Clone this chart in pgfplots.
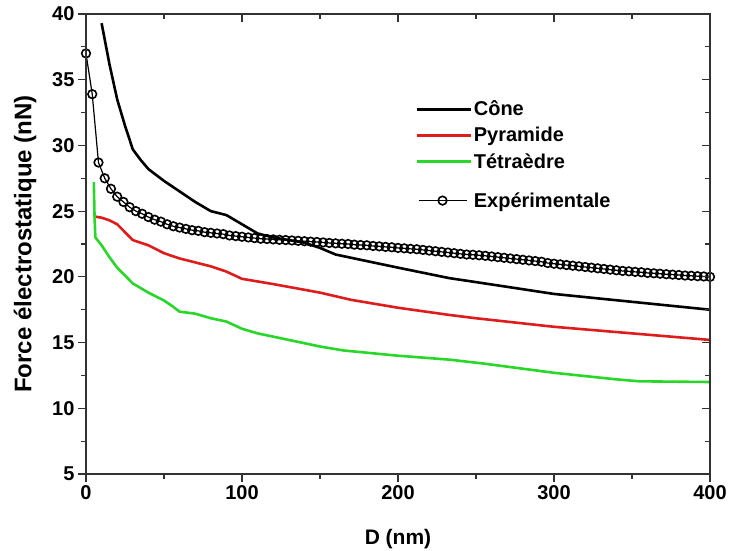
\documentclass[border=0pt]{standalone}
\usepackage{fontspec}
\setmainfont{Liberation Sans}
\usepackage{pgfplots}
\pgfplotsset{compat=1.18}
\definecolor{cred}{RGB}{222,28,28}
\definecolor{cgreen}{RGB}{40,215,40}
\definecolor{axgray}{RGB}{50,50,50}
\pgfplotsset{explegend/.style={legend image code/.code={\draw[mark repeat=2, mark phase=2, ##1] plot coordinates {(2pt,-6.5pt) (26pt,-6.5pt) (50pt,-6.5pt)};}}}
\begin{document}
\begin{tikzpicture}
\useasboundingbox (-86pt,-77pt) rectangle (643pt,474pt);
\pgfplotsset{
  common/.style={
    width=624pt, height=460pt, scale only axis,
    xmin=0, xmax=400, ymin=5, ymax=40,
    xtick={0,100,200,300,400}, minor xtick={50,150,250,350},
    ytick={5,10,15,20,25,30,35,40}, minor ytick={7.5,12.5,17.5,22.5,27.5,32.5,37.5},
    axis line style={draw=axgray, line width=1.3pt},
    major tick length=8pt, minor tick length=5pt,
    every tick/.style={axgray, line width=1.2pt},
  }
}
\begin{axis}[common,
  xtick pos=lower, ytick pos=left, tick align=outside,
  /pgf/number format/assume math mode=true,
  tick label style={font=\fontsize{20}{23}\selectfont\bfseries},
  xlabel={D (nm)}, ylabel={Force électrostatique (nN)},
  every axis y label/.style={at={(rel axis cs:0,0.5)}, xshift=-61pt, rotate=90, anchor=center,
    font=\fontsize{24}{27}\selectfont\bfseries},
  every axis x label/.style={at={(rel axis cs:0.5,0)}, anchor=center, yshift=-65pt,
    font=\fontsize{21}{24}\selectfont\bfseries},
  legend style={at={(axis cs:209,33.7)}, anchor=north west, draw=none, fill=none,
    font=\fontsize{20}{23}\selectfont\bfseries, row sep=6pt,
    nodes={inner sep=2pt}},
  legend cell align=left,
  legend image code/.code={\draw[mark repeat=2, mark phase=2, #1] plot coordinates {(0pt,0pt) (27pt,0pt) (54pt,0pt)};},
]
\addplot[black, line width=2.6pt, mark=none] coordinates {
(10,39.3) (15,36.2) (20,33.5) (25,31.5) (30,29.7) (35,28.9) (40,28.2) (50,27.3)
(60,26.5) (70,25.7) (80,25.0) (90,24.7) (100,24.0) (110,23.3) (120,23.0) (130,22.8)
(140,22.6) (150,22.2) (160,21.7) (180,21.2) (200,20.7) (233,19.9) (250,19.6)
(300,18.7) (350,18.1) (400,17.5)};
\addlegendentry{Cône}
\addplot[cred, line width=2.6pt, mark=none] coordinates {
(5,24.6) (10,24.5) (15,24.3) (20,24.0) (25,23.4) (30,22.8) (40,22.4) (50,21.8)
(60,21.4) (70,21.1) (80,20.8) (90,20.4) (100,19.85) (120,19.45) (150,18.8) (170,18.25)
(200,17.65) (233,17.1) (250,16.85) (300,16.2) (350,15.7) (400,15.2)};
\addlegendentry{Pyramide}
\addplot[cgreen, line width=2.6pt, mark=none] coordinates {
(5,27.2) (5.5,24.5) (6,23.0) (10,22.4) (15,21.5) (20,20.7) (25,20.1) (30,19.5)
(40,18.8) (50,18.2) (55,17.8) (60,17.35) (70,17.2) (80,16.85) (90,16.6) (100,16.05)
(110,15.7) (130,15.2) (150,14.7) (165,14.4) (200,14.0) (233,13.7) (255,13.4)
(300,12.7) (340,12.2) (355,12.05) (400,12.0)};
\addlegendentry{Tétraèdre}
\addplot[black, line width=1.2pt, mark=o, mark size=4.3pt,
  mark options={line width=1.6pt, fill=white, draw=black}, explegend] coordinates {
(0,37.0) (4,33.9) (8,28.7) (12,27.5) (16,26.7) (20,26.1) (24,25.7) (28,25.3)
(32,25.0) (36,24.8) (40,24.55) (44,24.35) (48,24.2) (52,24.0) (56,23.85) (60,23.75)
(64,23.65) (68,23.55) (72,23.5) (76,23.4) (80,23.35) (84,23.3) (88,23.25) (92,23.15)
(96,23.1) (100,23.05) (104,23.0) (108,22.95) (112,22.9) (116,22.88) (120,22.85)
(124,22.82) (128,22.8) (132,22.77) (136,22.74) (140,22.71) (144,22.68) (148,22.65)
(152,22.62) (156,22.58) (160,22.55) (164,22.52) (168,22.5) (172,22.45) (176,22.42)
(180,22.4) (184,22.35) (188,22.32) (192,22.28) (196,22.25) (200,22.2) (204,22.17)
(208,22.13) (212,22.1) (216,22.05) (220,22.0) (224,21.95) (228,21.9) (232,21.85)
(236,21.8) (240,21.75) (244,21.7) (248,21.68) (252,21.64) (256,21.6) (260,21.55)
(264,21.5) (268,21.45) (272,21.4) (276,21.35) (280,21.3) (284,21.25) (288,21.2)
(292,21.15) (296,21.05) (300,21.0) (304,20.95) (308,20.9) (312,20.85) (316,20.8)
(320,20.75) (324,20.7) (328,20.65) (332,20.6) (336,20.55) (340,20.5) (344,20.45)
(348,20.42) (352,20.38) (356,20.35) (360,20.3) (364,20.27) (368,20.24) (372,20.2)
(376,20.17) (380,20.14) (384,20.1) (388,20.08) (392,20.05) (396,20.03) (400,20.0)};
\addlegendentry{\rule{0pt}{27.5pt}Expérimentale}
\end{axis}
\begin{axis}[common,
  xtick pos=upper, ytick pos=right, tick align=inside,
  xticklabels={}, yticklabels={},
]
\end{axis}
\end{tikzpicture}
\end{document}
